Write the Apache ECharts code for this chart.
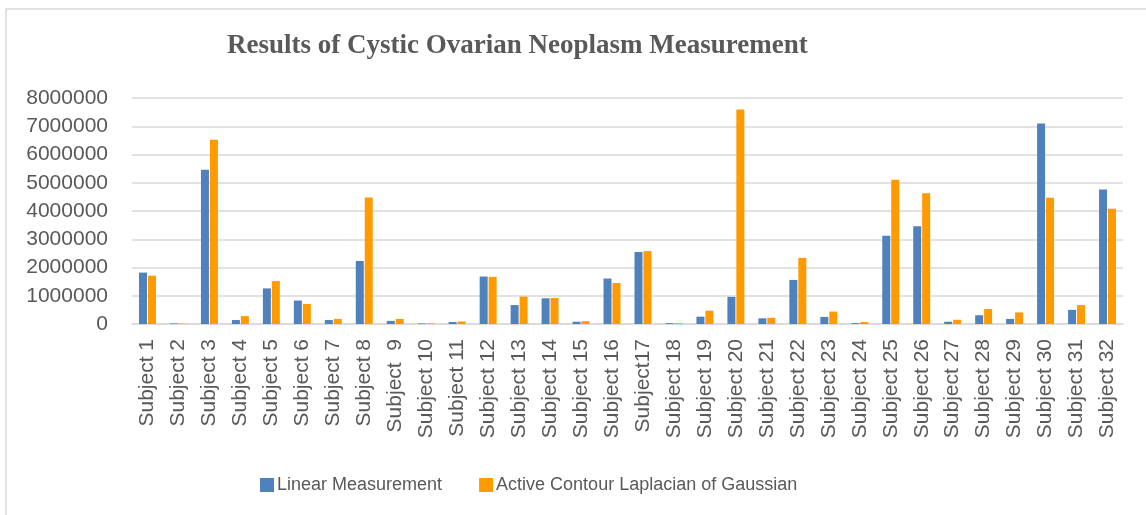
<!DOCTYPE html>
<html>
<head>
<meta charset="utf-8">
<script src="https://cdn.jsdelivr.net/npm/echarts@6/dist/echarts.min.js"></script>
<style>
  html, body { margin: 0; padding: 0; background: #fff; }
  #main { width: 1146px; height: 515px; }
</style>
</head>
<body>
<div id="main"></div>
<script>
// categories as printed under the bars (note the odd spacing on 9 and 17)
const subjects = [
  'Subject 1', 'Subject 2', 'Subject 3', 'Subject 4', 'Subject 5', 'Subject 6',
  'Subject 7', 'Subject 8', 'Subject  9', 'Subject 10', 'Subject 11', 'Subject 12',
  'Subject 13', 'Subject 14', 'Subject 15', 'Subject 16', 'Subject17', 'Subject 18',
  'Subject 19', 'Subject 20', 'Subject 21', 'Subject 22', 'Subject 23', 'Subject 24',
  'Subject 25', 'Subject 26', 'Subject 27', 'Subject 28', 'Subject 29', 'Subject 30',
  'Subject 31', 'Subject 32'
]

const linearMeasurement = [
  1820000, 20000, 5460000, 140000, 1260000, 830000, 140000, 2230000,
  110000, 20000, 70000, 1680000, 670000, 910000, 80000, 1610000,
  2550000, 30000, 260000, 960000, 200000, 1560000, 250000, 30000,
  3120000, 3460000, 80000, 310000, 180000, 7100000, 500000, 4760000
]

const activeContourLoG = [
  1710000, 10000, 6520000, 280000, 1520000, 710000, 180000, 4480000,
  180000, 20000, 90000, 1670000, 970000, 920000, 100000, 1450000,
  2580000, 30000, 470000, 7590000, 220000, 2340000, 440000, 70000,
  5110000, 4630000, 150000, 530000, 410000, 4470000, 670000, 4080000
]

const yTicks = { min: 0, max: 8000000, interval: 1000000 }

const textGray = '#595959'
const gridGray = '#D9D9D9'
const sansFont = "'Liberation Sans', Arial, sans-serif"

let chart = echarts.init(document.getElementById('main'), null, { renderer: 'canvas' })

const option = {
  backgroundColor: '#fff',
  animation: false,
  title: {
    text: 'Results of Cystic Ovarian Neoplasm Measurement',
    left: 222,
    top: 28,
    textStyle: {
      fontFamily: "'Liberation Serif', 'Times New Roman', serif",
      fontWeight: 'bold',
      fontSize: 27,
      color: textGray
    }
  },
  // thin frame of the original chart box
  graphic: [{
    type: 'rect',
    shape: { x: 6, y: 9, width: 1200, height: 600 },
    style: { fill: null, stroke: gridGray, lineWidth: 1.5 },
    silent: true
  }],
  legend: {
    left: 255,
    top: 471,
    itemWidth: 14,
    itemHeight: 14,
    itemGap: 37,
    icon: 'rect',
    textStyle: {
      fontFamily: sansFont,
      fontSize: 18,
      color: textGray,
      padding: [0, 0, 0, -2]
    }
  },
  grid: {
    left: 132,
    right: 23,
    top: 98,
    bottom: 191,
    containLabel: false
  },
  xAxis: {
    type: 'category',
    data: subjects,
    axisTick: { show: false },
    axisLine: { show: true, lineStyle: { color: gridGray, width: 1.5 } },
    axisLabel: {
      interval: 0,
      rotate: 90,
      margin: 15,
      fontFamily: sansFont,
      fontSize: 21,
      color: textGray
    }
  },
  yAxis: {
    type: 'value',
    min: yTicks.min,
    max: yTicks.max,
    interval: yTicks.interval,
    axisLine: { show: false },
    axisTick: { show: false },
    splitLine: { lineStyle: { color: gridGray, width: 1.5 } },
    axisLabel: {
      margin: 24,
      fontFamily: sansFont,
      fontSize: 21,
      color: textGray,
      formatter: (v) => String(v)
    }
  },
  series: [
    {
      name: 'Linear Measurement',
      type: 'bar',
      data: linearMeasurement,
      barWidth: 8,
      barGap: '12%',
      itemStyle: { color: '#4F81BD' }
    },
    {
      name: 'Active Contour Laplacian of Gaussian',
      type: 'bar',
      data: activeContourLoG,
      barWidth: 8,
      itemStyle: { color: '#FF9A00' }
    }
  ]
}

chart.setOption(option)
</script>
</body>
</html>
